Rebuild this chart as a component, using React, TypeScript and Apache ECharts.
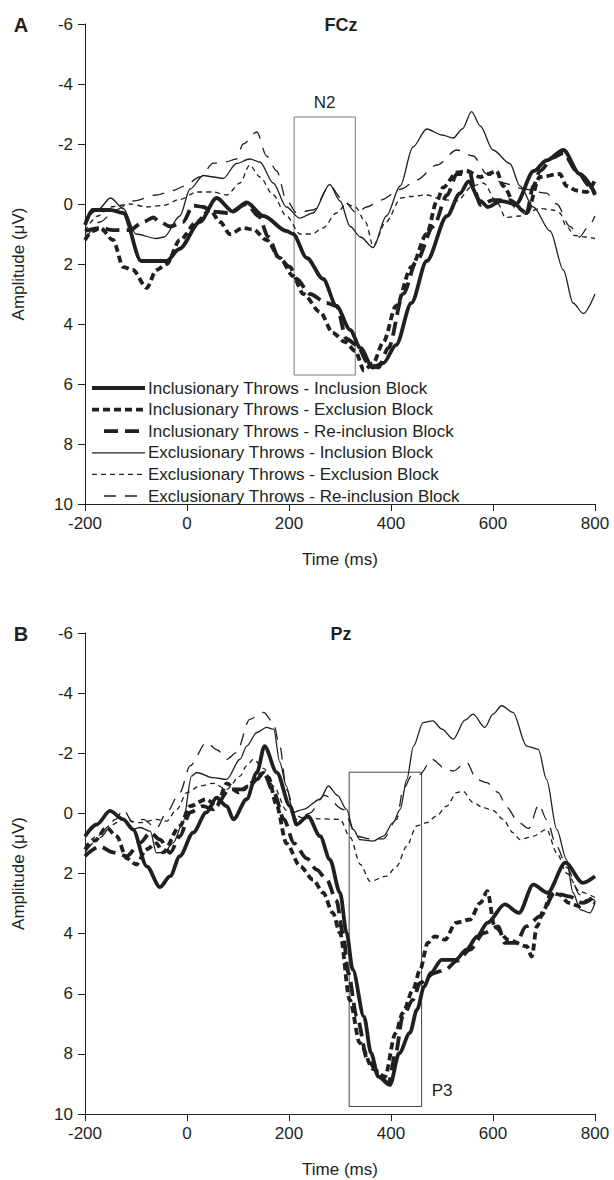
import { useEffect, useRef } from "react";
import * as echarts from "echarts";

const INK = "#231f20";
const FONT = "'Liberation Sans', Arial, Helvetica, sans-serif";

const seriesNames = [
  "Inclusionary Throws - Inclusion Block",
  "Inclusionary Throws - Exclusion Block",
  "Inclusionary Throws - Re-inclusion Block",
  "Exclusionary Throws - Inclusion Block",
  "Exclusionary Throws - Exclusion Block",
  "Exclusionary Throws - Re-inclusion Block",
];

const panelTitles = ["FCz", "Pz"];
const panelLetters = ["A", "B"];

// ---- FCz (panel A): [time ms, amplitude µV] ----
const fczInclIncl: [number, number][] = [
  [-200, 0.7], [-185, 0.2], [-150, 0.2], [-125, 0.3], [-90, 1.9], [-40, 1.9], [-15, 1.5], [25, 0.6],
  [58, -0.2], [90, 0.25], [117, -0.05], [150, 0.4], [195, 0.9], [208, 1.0], [235, 1.8], [267, 2.5],
  [293, 3.4], [320, 4.2], [340, 4.8], [364, 5.45], [385, 5.3], [410, 4.7], [440, 3.3], [470, 1.9],
  [510, 0.4], [535, -0.35], [552, -0.75], [575, -0.1], [590, 0.1], [615, -0.1], [645, 0], [680, -1.1],
  [705, -1.45], [738, -1.8], [770, -1.0], [800, -0.35],
];
const fczInclExcl: [number, number][] = [
  [-200, 1.2], [-185, 0.9], [-170, 0.8], [-145, 1.2], [-125, 2.1], [-106, 2.2], [-79, 2.8], [-60, 2.2],
  [-40, 2.0], [-14, 1.2], [19, 0.6], [45, 0.2], [65, 0.6], [84, 1.0], [110, 0.8], [130, 0.85],
  [156, 1.2], [182, 1.8], [208, 2.4], [228, 3.0], [261, 3.6], [286, 4.3], [310, 4.6], [330, 4.9],
  [347, 5.55], [365, 5.3], [385, 4.6], [410, 3.4], [440, 2.1], [470, 1.0], [490, -0.1], [502, -0.55],
  [529, -1.05], [548, -1.1], [575, -0.9], [590, -1.0], [607, -1.1], [620, -0.6], [646, 0.1], [666, 0.3],
  [692, -0.9], [731, -1.0], [744, -0.6], [764, -0.45], [784, -0.4], [800, -0.8],
];
const fczInclReincl: [number, number][] = [
  [-200, 0.9], [-170, 0.8], [-145, 0.87], [-112, 0.87], [-86, 0.6], [-66, 0.45], [-53, 0.6], [-33, 0.75],
  [-8, 0.6], [12, 0.05], [32, 0.1], [50, 0.25], [80, 0.3], [117, 0.0], [140, 0.4], [160, 1.1],
  [180, 1.8], [202, 2.1], [215, 2.5], [241, 3.0], [274, 3.3], [293, 3.4], [313, 4.5], [333, 4.7],
  [355, 5.3], [375, 5.45], [395, 4.8], [424, 3.0], [450, 1.9], [483, 0.75], [510, -0.3], [529, -1.0],
  [555, -1.0], [565, -0.4], [575, 0.03], [600, -0.13], [633, -0.13], [666, 0.3], [679, -0.6], [692, -1.1],
  [718, -1.55], [738, -1.7], [764, -1.1], [790, -0.6], [800, -0.3],
];
const fczExclIncl: [number, number][] = [
  [-200, 0.55], [-175, 0.2], [-150, -0.2], [-125, 0.15], [-100, 1.0], [-60, 1.15], [-45, 1.1], [-14, 0.4],
  [6, -0.5], [32, -0.95], [52, -0.9], [71, -0.85], [97, -1.35], [123, -1.5], [143, -1.4], [169, -0.7],
  [195, 0.1], [221, 0.47], [247, 0.3], [280, -0.65], [300, -0.1], [320, 0.75], [340, 1.1], [365, 1.45],
  [391, 0.4], [418, -0.6], [443, -1.9], [470, -2.5], [500, -2.3], [522, -2.2], [540, -2.5], [558, -3.08],
  [575, -2.6], [600, -1.8], [633, -1.35], [653, -0.6], [679, 0.1], [712, 0.9], [738, 2.2], [757, 3.3],
  [777, 3.65], [800, 3.0],
];
const fczExclExcl: [number, number][] = [
  [-200, 0.9], [-175, 0.4], [-150, 0.1], [-112, 0.0], [-79, 0.1], [-47, 0.05], [-14, -0.15], [19, -0.4],
  [51, -0.4], [78, -0.3], [104, -0.7], [123, -1.3], [143, -0.9], [169, -0.3], [195, 0.4], [222, 1.0],
  [245, 1.0], [267, 0.8], [293, 0.3], [313, 0.0], [330, 0.1], [350, 0.6], [365, 1.4], [390, 0.6],
  [420, -0.2], [437, -0.25], [470, -0.3], [500, -0.15], [529, -0.1], [560, -0.6], [581, -0.7], [610, 0.0],
  [624, 0.45], [653, 0.4], [692, 0.15], [718, 0.2], [731, 0.3], [744, 0.75], [760, 1.05], [780, 1.1],
  [800, 1.15],
];
const fczExclReincl: [number, number][] = [
  [-200, 1.2], [-171, 0.6], [-140, 0.2], [-106, -0.1], [-60, -0.3], [-27, -0.45], [-5, -0.6], [25, -0.9],
  [52, -1.36], [75, -1.4], [97, -1.5], [110, -2.0], [137, -2.4], [156, -1.6], [176, -1.1], [195, -0.13],
  [215, 0.3], [247, 0.2], [280, -0.6], [306, -0.13], [333, 0.3], [352, 0.1], [380, -0.13], [420, -0.5],
  [450, -0.8], [490, -1.3], [529, -1.8], [561, -1.6], [588, -1.0], [620, -0.7], [660, -0.5], [705, -0.36],
  [725, 0.0], [751, 0.75], [770, 1.1], [785, 0.8], [800, 0.4],
];

// ---- Pz (panel B) ----
const pzInclIncl: [number, number][] = [
  [-200, 0.76], [-177, 0.37], [-151, -0.08], [-125, 0.2], [-106, 0.53], [-79, 1.76], [-53, 2.45], [-33, 2.09],
  [-14, 1.42], [12, 0.64], [38, -0.03], [58, -0.52], [78, -0.24], [91, 0.2], [117, -0.47], [137, -1.36],
  [152, -2.24], [176, -1.36], [202, -0.24], [215, 0.37], [237, 0.09], [261, 0.76], [280, 1.53], [300, 2.64],
  [313, 3.98], [325, 5.2], [347, 6.76], [361, 7.98], [375, 8.76], [398, 9.03], [416, 7.98], [437, 7.3],
  [451, 6.53], [465, 5.76], [478, 5.31], [499, 4.87], [527, 4.87], [548, 4.53], [569, 4.09], [589, 3.64],
  [623, 3.03], [651, 3.31], [679, 2.37], [707, 2.64], [742, 1.64], [776, 2.31], [800, 2.09],
];
const pzInclExcl: [number, number][] = [
  [-200, 1.2], [-180, 0.9], [-158, 0.47], [-138, 0.76], [-118, 1.5], [-99, 1.7], [-80, 1.2], [-60, 1.0],
  [-47, 1.3], [-14, 0.42], [6, -0.24], [38, -0.47], [58, -0.24], [78, -1.0], [100, -0.7], [120, -0.9],
  [150, -1.35], [160, -1.2], [175, -0.3], [195, 1.0], [222, 1.76], [247, 2.2], [267, 2.64], [286, 3.31],
  [300, 3.98], [319, 6.2], [339, 7.64], [365, 8.5], [388, 8.76], [409, 7.31], [423, 6.64], [443, 5.87],
  [457, 5.2], [472, 4.31], [486, 4.09], [506, 4.2], [527, 3.64], [555, 3.53], [575, 2.98], [589, 2.59],
  [603, 3.76], [630, 4.2], [666, 4.42], [676, 4.76], [686, 3.76], [700, 3.2], [714, 2.64], [730, 2.7],
  [749, 2.98], [769, 3.09], [785, 2.9], [800, 2.98],
];
const pzInclReincl: [number, number][] = [
  [-200, 1.42], [-171, 1.1], [-145, 1.3], [-118, 1.42], [-92, 0.98], [-72, 0.64], [-53, 0.87], [-33, 1.31],
  [-14, 0.76], [6, -0.03], [31, -0.24], [51, -0.13], [84, -0.8], [110, -0.8], [137, -1.13], [150, -1.36],
  [170, -0.7], [190, 0.2], [210, 1.0], [235, 1.5], [254, 1.87], [274, 2.2], [293, 2.9], [306, 4.0],
  [316, 5.3], [333, 6.76], [354, 8.2], [375, 8.64], [395, 8.98], [409, 7.98], [423, 6.76], [443, 6.2],
  [457, 5.64], [485, 5.31], [506, 5.2], [530, 4.9], [555, 4.53], [582, 3.98], [610, 3.76], [623, 4.31],
  [645, 4.31], [665, 3.76], [693, 3.42], [721, 2.64], [749, 2.76], [776, 2.98], [800, 2.76],
];
const pzExclIncl: [number, number][] = [
  [-200, 0.8], [-177, 0.4], [-151, -0.05], [-125, 0.2], [-106, 0.53], [-92, 0.47], [-72, 0.59], [-60, 1.31],
  [-45, 1.3], [-27, 0.98], [-8, 0.31], [9, -1.24], [19, -1.36], [51, -1.19], [78, -1.13], [104, -1.8],
  [117, -2.24], [137, -2.69], [156, -2.86], [170, -2.8], [182, -1.7], [195, -0.9], [208, -0.03], [228, -0.13],
  [261, -0.47], [277, -0.91], [295, -0.6], [313, -0.13], [326, 0.53], [339, 0.87], [365, 0.92], [385, 0.76],
  [404, 0.31], [418, -0.13], [431, -1.13], [444, -2.24], [463, -3.02], [482, -3.08], [500, -2.8], [522, -2.47],
  [545, -3.1], [561, -3.3], [584, -2.86], [600, -3.3], [617, -3.58], [639, -3.36], [666, -2.24], [689, -2.13],
  [705, -1.13], [725, 0.53], [744, 1.53], [757, 2.64], [771, 3.2], [790, 3.31], [800, 2.98],
];
const pzExclExcl: [number, number][] = [
  [-200, 1.1], [-177, 0.76], [-150, 0.4], [-125, 0.2], [-92, 0.31], [-60, 0.2], [-40, 0.26], [-20, -0.13],
  [0, -0.69], [25, -0.91], [51, -1.0], [78, -0.8], [104, -1.24], [117, -1.58], [130, -1.8], [150, -1.5],
  [170, -0.9], [195, -0.1], [228, 0.15], [260, 0.18], [300, 0.2], [320, 0.8], [340, 1.7], [359, 2.26],
  [391, 2.09], [411, 1.76], [431, 1.09], [450, 0.42], [470, 0.31], [489, 0.09], [509, -0.24], [529, -0.69],
  [541, -0.74], [561, -0.36], [581, -0.19], [600, -0.1], [620, 0.2], [639, 0.64], [653, 0.87], [679, 0.76],
  [705, 0.53], [725, 1.31], [745, 2.0], [770, 2.6], [800, 2.8],
];
const pzExclReincl: [number, number][] = [
  [-200, 1.3], [-170, 0.8], [-140, 0.2], [-125, -0.13], [-106, 0.31], [-86, 0.2], [-60, 0.5], [-40, -0.03],
  [-14, -0.69], [6, -1.58], [38, -2.36], [60, -2.1], [78, -1.8], [97, -2.02], [123, -3.13], [150, -3.36],
  [169, -3.02], [182, -2.24], [195, -0.8], [215, 0.2], [240, 0.0], [270, -0.6], [306, -0.13], [333, 0.76],
  [360, 0.85], [385, 0.85], [411, 0.2], [424, -0.8], [440, -1.24], [457, -1.3], [480, -1.8], [509, -1.45],
  [522, -1.41], [548, -1.7], [568, -1.13], [588, -1.02], [610, -0.7], [627, -0.2], [650, 0.3], [670, 0.5],
  [690, -0.3], [705, 0.2], [725, 1.1], [745, 1.8], [770, 2.7], [800, 2.9],
];

const fczData = [fczInclIncl, fczInclExcl, fczInclReincl, fczExclIncl, fczExclExcl, fczExclReincl];
const pzData = [pzInclIncl, pzInclExcl, pzInclReincl, pzExclIncl, pzExclExcl, pzExclReincl];

// analysis windows: [start ms, end ms], [top µV, bottom µV]
const n2Window = [210, 330];
const n2Range = [-2.9, 5.7];
const p3Window = [318, 460];
const p3Range = [-1.37, 9.75];

const lineStyles = [
  { width: 3.8, type: "solid" as any },
  { width: 3.8, type: [7, 4] as any },
  { width: 3.8, type: [14, 7] as any },
  { width: 1.3, type: "solid" as any },
  { width: 1.3, type: [5, 4] as any },
  { width: 1.3, type: [12, 9] as any },
];

function buildOption() {
  const grids = [
    { left: 85, top: 24, width: 510, height: 480 },
    { left: 85, top: 633, width: 510, height: 481 },
  ];
  const xAxes = [0, 1].map((i) => ({
    type: "value",
    gridIndex: i,
    min: -200,
    max: 800,
    interval: 200,
    name: "Time (ms)",
    nameLocation: "middle",
    nameGap: 47,
    nameTextStyle: { fontSize: 17, color: INK, fontFamily: FONT },
    axisLine: { onZero: false, lineStyle: { color: INK, width: 1 } },
    axisTick: { length: 7, lineStyle: { color: INK, width: 1 } },
    axisLabel: { fontSize: 17, color: INK, margin: 11, fontFamily: FONT },
    splitLine: { show: false },
  }));
  const yAxes = [0, 1].map((i) => ({
    type: "value",
    gridIndex: i,
    min: -6,
    max: 10,
    interval: 2,
    inverse: true,
    name: "Amplitude (μV)",
    nameLocation: "middle",
    nameGap: 58,
    nameTextStyle: { fontSize: 17, color: INK, fontFamily: FONT },
    axisLine: { show: true, onZero: false, lineStyle: { color: INK, width: 1 } },
    axisTick: { show: true, length: 7, lineStyle: { color: INK, width: 1 } },
    axisLabel: { fontSize: 17, color: INK, margin: 12, fontFamily: FONT },
    splitLine: { show: false },
  }));

  const series: any[] = [];
  [fczData, pzData].forEach((panel, p) => {
    panel.forEach((data, k) => {
      const s: any = {
        type: "line",
        name: seriesNames[k],
        xAxisIndex: p,
        yAxisIndex: p,
        data,
        symbol: "none",
        smooth: 0.3,
        smoothMonotone: "x",
        silent: true,
        z: k < 3 ? 4 : 3,
        lineStyle: { color: INK, width: lineStyles[k].width, type: lineStyles[k].type, cap: "butt", join: "round" },
      };
      if (k === 0) {
        const win = p === 0 ? n2Window : p3Window;
        const rng = p === 0 ? n2Range : p3Range;
        s.markArea = {
          silent: true,
          itemStyle: { color: "rgba(0,0,0,0)", borderColor: p === 0 ? "#7a7a7a" : "#444", borderWidth: 1 },
          label:
            p === 0
              ? { show: true, position: "top", distance: 6, fontSize: 17, color: INK, fontFamily: FONT }
              : {
                  show: true,
                  position: ["113%", "95%"],
                  align: "left",
                  verticalAlign: "middle",
                  fontSize: 17,
                  color: INK,
                  fontFamily: FONT,
                },
          data: [
            [
              { name: p === 0 ? "N2" : "P3", coord: [win[0], rng[0]] },
              { coord: [win[1], rng[1]] },
            ],
          ],
        };
      }
      series.push(s);
    });
  });

  const graphic: any[] = [];
  const letterY = [25, 634];
  [0, 1].forEach((p) => {
    graphic.push({
      type: "text",
      x: 21,
      y: letterY[p],
      style: {
        text: panelLetters[p],
        fontSize: 20,
        fontWeight: "bold",
        fontFamily: FONT,
        fill: INK,
        align: "center",
        verticalAlign: "middle",
        textAlign: "center",
        textVerticalAlign: "middle",
      },
    });
    graphic.push({
      type: "text",
      x: 341,
      y: letterY[p],
      style: {
        text: panelTitles[p],
        fontSize: 18,
        fontWeight: "bold",
        fontFamily: FONT,
        fill: INK,
        align: "center",
        verticalAlign: "middle",
        textAlign: "center",
        textVerticalAlign: "middle",
      },
    });
  });

  // legend (panel A)
  const legendTop = 388;
  const rowGap = 21.6;
  seriesNames.forEach((nm, k) => {
    const y = legendTop + k * rowGap;
    const longDash = k === 2 || k === 5;
    graphic.push({
      type: "line",
      shape: { x1: longDash ? 104 : 92, y1: y, x2: 145, y2: y },
      style: {
        stroke: INK,
        lineWidth: lineStyles[k].width,
        lineDash: Array.isArray(lineStyles[k].type) ? lineStyles[k].type : null,
        lineCap: "butt",
      },
      z: 10,
    });
    graphic.push({
      type: "text",
      x: 148,
      y,
      style: {
        text: nm,
        fontSize: 17,
        fontFamily: FONT,
        fill: INK,
        align: "left",
        verticalAlign: "middle",
        textAlign: "left",
        textVerticalAlign: "middle",
      },
      z: 10,
    });
  });

  return {
    animation: false,
    backgroundColor: "#ffffff",
    textStyle: { fontFamily: FONT },
    grid: grids,
    xAxis: xAxes,
    yAxis: yAxes,
    series,
    graphic,
  };
}

export default function App() {
  const ref = useRef<HTMLDivElement>(null);
  useEffect(() => {
    document.body.style.margin = "0";
    const chart = echarts.init(ref.current as HTMLDivElement, null, { renderer: "svg" });
    chart.setOption(buildOption() as any);
    return () => {
      chart.dispose();
    };
  }, []);
  return <div ref={ref} style={{ width: 614, height: 1180 }} />;
}
